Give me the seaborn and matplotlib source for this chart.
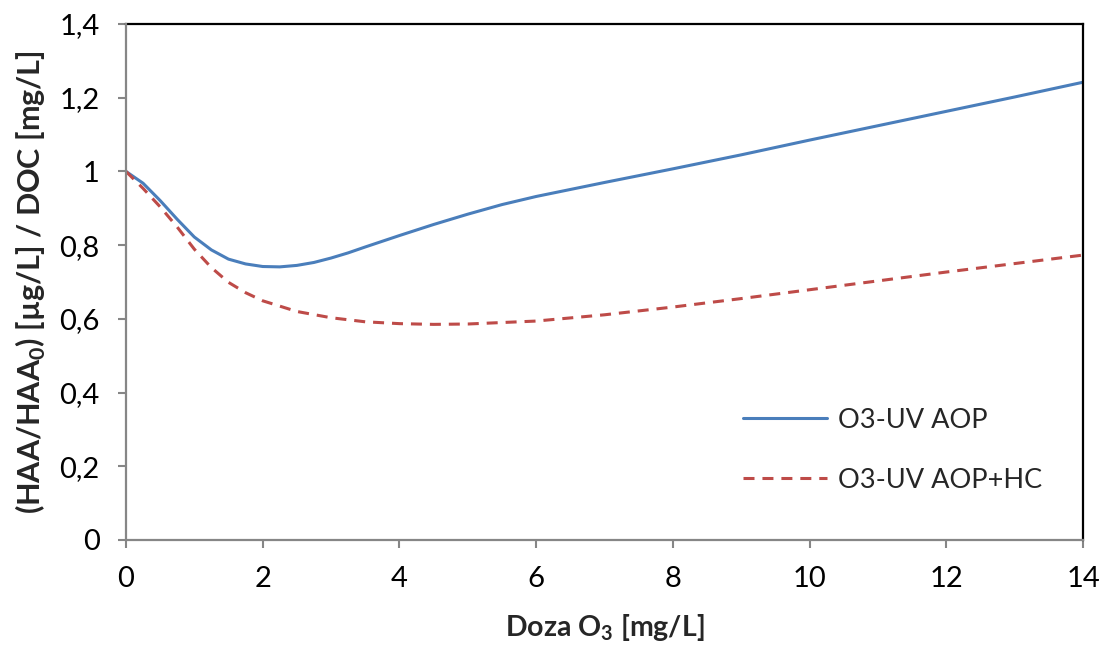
import pandas as pd
import matplotlib.pyplot as plt
import matplotlib.ticker as mticker
import seaborn as sns

# ── Data ─────────────────────────────────────────────────────
dose_aop = [0, 0.25, 0.5, 0.75, 1.0, 1.25, 1.5, 1.75, 2.0, 2.25, 2.5, 2.75, 3.0,
            3.25, 3.5, 4.0, 4.5, 5.0, 5.5, 6.0, 7.0, 8.0, 9.0, 10.0, 11.0, 12.0,
            13.0, 14.0]
ratio_aop = [1.0, 0.968, 0.921, 0.87, 0.822, 0.787, 0.762, 0.749, 0.742, 0.741,
             0.745, 0.753, 0.765, 0.779, 0.795, 0.826, 0.856, 0.884, 0.91, 0.932,
             0.97, 1.007, 1.045, 1.085, 1.124, 1.163, 1.202, 1.242]

dose_hc = [0, 0.25, 0.5, 0.75, 1.0, 1.25, 1.5, 1.75, 2.0, 2.5, 3.0, 3.5, 4.0,
           4.5, 5.0, 6.0, 7.0, 8.0, 9.0, 10.0, 11.0, 12.0, 13.0, 14.0]
ratio_hc = [1.0, 0.954, 0.904, 0.849, 0.789, 0.739, 0.699, 0.671, 0.649, 0.62,
            0.603, 0.592, 0.587, 0.585, 0.586, 0.594, 0.611, 0.632, 0.655, 0.679,
            0.703, 0.727, 0.75, 0.773]

label_aop = 'O3-UV AOP'
label_hc = 'O3-UV AOP+HC'

x_ticks = [0, 2, 4, 6, 8, 10, 12, 14]
y_ticks = [0, 0.2, 0.4, 0.6, 0.8, 1.0, 1.2, 1.4]

df_aop = pd.DataFrame({'Doza': dose_aop, 'Ratio': ratio_aop})
df_hc = pd.DataFrame({'Doza': dose_hc, 'Ratio': ratio_hc})

# ── Style ────────────────────────────────────────────────────
sns.set_style('white')
plt.rcParams['font.family'] = ['Lato', 'DejaVu Sans']
plt.rcParams['mathtext.fontset'] = 'custom'
plt.rcParams['mathtext.rm'] = 'Lato'
plt.rcParams['mathtext.bf'] = 'Lato:bold'

grey = '#868686'
blue = '#4A7EBB'
red = '#BE4B48'

fig = plt.figure(figsize=(11.01, 6.52), dpi=100)
ax = fig.add_axes([0.1144, 0.1718, 0.8693, 0.7914])

sns.lineplot(data=df_aop, x='Doza', y='Ratio', ax=ax, color=blue,
             linewidth=2.2, label=label_aop)
sns.lineplot(data=df_hc, x='Doza', y='Ratio', ax=ax, color=red,
             linewidth=2.2, linestyle=(0, (3.6, 2.6)), label=label_hc)

ax.set_xlim(0, 14)
ax.set_ylim(0, 1.4)
ax.set_xticks(x_ticks)
ax.set_yticks(y_ticks)
ax.yaxis.set_major_formatter(
    mticker.FuncFormatter(lambda v, p: f'{v:g}'.replace('.', ',')))

for side in ['top', 'right']:
    ax.spines[side].set_color('black')
    ax.spines[side].set_linewidth(1.6)
for side in ['left', 'bottom']:
    ax.spines[side].set_color(grey)
    ax.spines[side].set_linewidth(1.6)
    ax.spines[side].set_zorder(5)

ax.tick_params(axis='both', direction='out', length=6, width=1.5,
               color=grey, labelsize=21, labelcolor='black')
ax.tick_params(axis='y', pad=13)
ax.tick_params(axis='x', pad=13)
ax.tick_params(axis='both', which='both', left=True, bottom=True)

ax.set_xlabel(r'Doza O$_\mathbf{3}$ [mg/L]', fontsize=20.5, fontweight='bold',
              labelpad=14)
ax.set_ylabel(r'(HAA/HAA$_\mathbf{0}$) [µg/L] / DOC [mg/L]', fontsize=22,
              fontweight='bold', labelpad=8)

ax.legend(loc='center left', bbox_to_anchor=(0.645, 0.174), frameon=False,
          fontsize=19.5, handlelength=3.1, handletextpad=0.4, labelspacing=1.3,
          borderpad=0, borderaxespad=0)

plt.savefig('out.png', dpi=100)
